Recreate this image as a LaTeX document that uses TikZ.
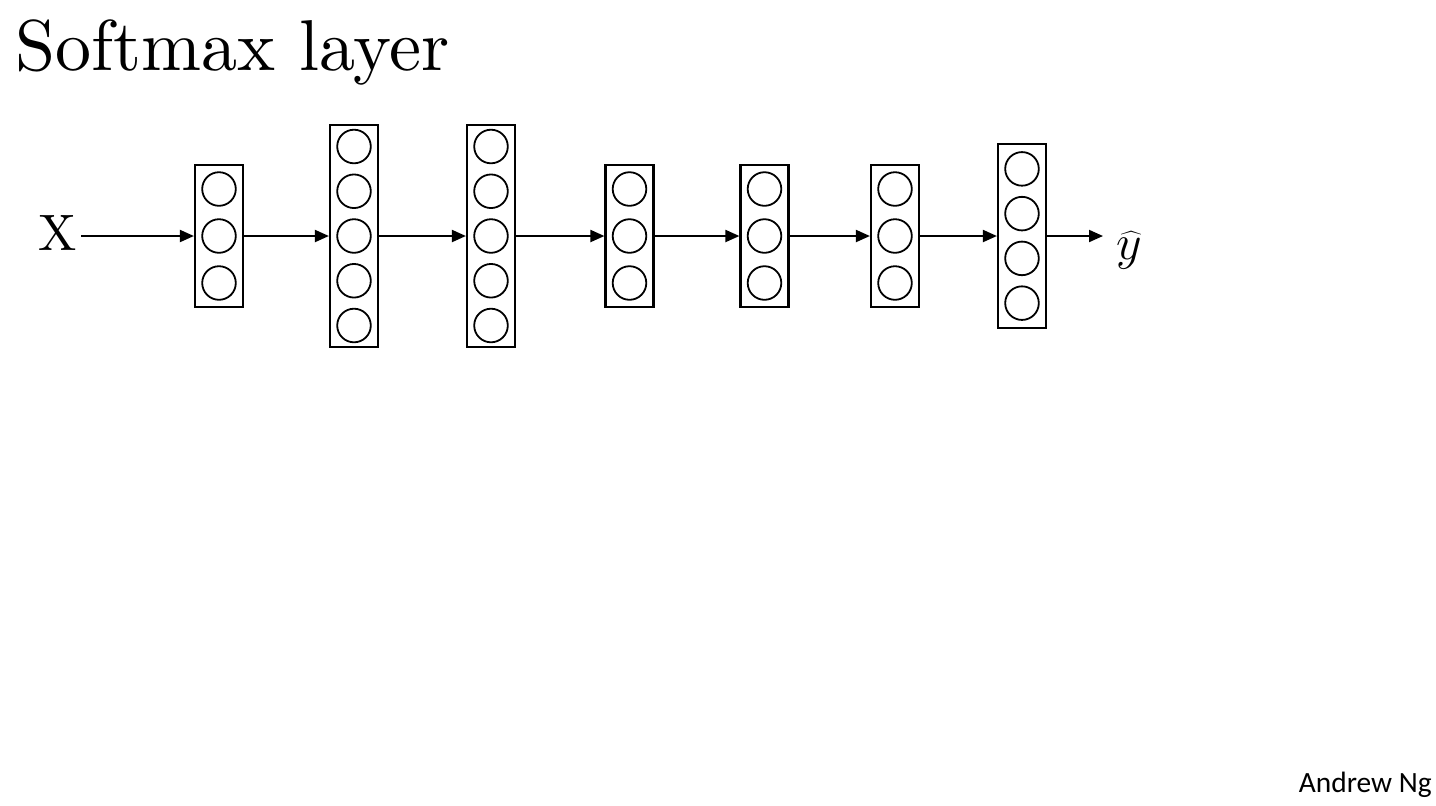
\documentclass[tikz,border=0pt]{standalone}
\usepackage{fontspec}
\usetikzlibrary{arrows.meta}
\newfontfamily\titulofont{lmroman10-regular}[Extension=.otf]
\newfontfamily\assinatura{Carlito}

\begin{document}
\begin{tikzpicture}[x=0.5pt, y=-0.5pt, >={Triangle[length=7pt, width=6pt]},
  camada/.style={draw, line width=1.1pt, minimum width=24pt, inner sep=0pt},
  neuronio/.style={draw, circle, line width=0.9pt, minimum size=16.8pt, inner sep=0pt},
  seta/.style={->, line width=1pt}]

  \useasboundingbox (0,0) rectangle (1436,805);

  % Titulo
  \node[anchor=base west, inner sep=0pt] (titulo) at (15,70)
    {\titulofont\fontsize{36}{40}\selectfont Softmax layer};

  % Entrada
  \node[inner sep=0pt] (x) at (57.5,233) {\titulofont\fontsize{25.6}{30}\selectfont X};
  \coordinate (xout) at (81,236);

  % Camadas: nome / centro x / neuronios / altura (pt)
  \foreach \nome/\xc/\n/\alt in {l1/219/3/71, l2/354/5/111, l3/491/5/111,
      l4/629.5/3/71, l5/764.5/3/71, l6/895/3/71, l7/1022/4/92} {
    \node[camada, minimum height=\alt pt] (\nome) at (\xc,236) {};
    \pgfmathsetmacro\esp{\n==3 ? 47 : 44.75}
    \foreach \i in {1,...,\n}
      \node[neuronio] (\nome-\i) at (\xc, {236 + (\i - (\n+1)/2)*\esp}) {};
  }

  % Saida
  \node[anchor=base west, inner sep=0pt] (yhat) at (1116,259)
    {\fontsize{25}{30}\selectfont $\widehat{y}$};
  \coordinate (yin) at (1103,236);

  % Setas
  \draw[seta] (xout) -- (l1);
  \draw[seta] (l1) -- (l2);
  \draw[seta] (l2) -- (l3);
  \draw[seta] (l3) -- (l4);
  \draw[seta] (l4) -- (l5);
  \draw[seta] (l5) -- (l6);
  \draw[seta] (l6) -- (l7);
  \draw[seta] (l7) -- (yin);

  % Rodape
  \node[anchor=base east, inner sep=0pt] (autor) at (1432,792)
    {\assinatura\fontsize{14.7}{17}\selectfont Andrew Ng};

\end{tikzpicture}
\end{document}
